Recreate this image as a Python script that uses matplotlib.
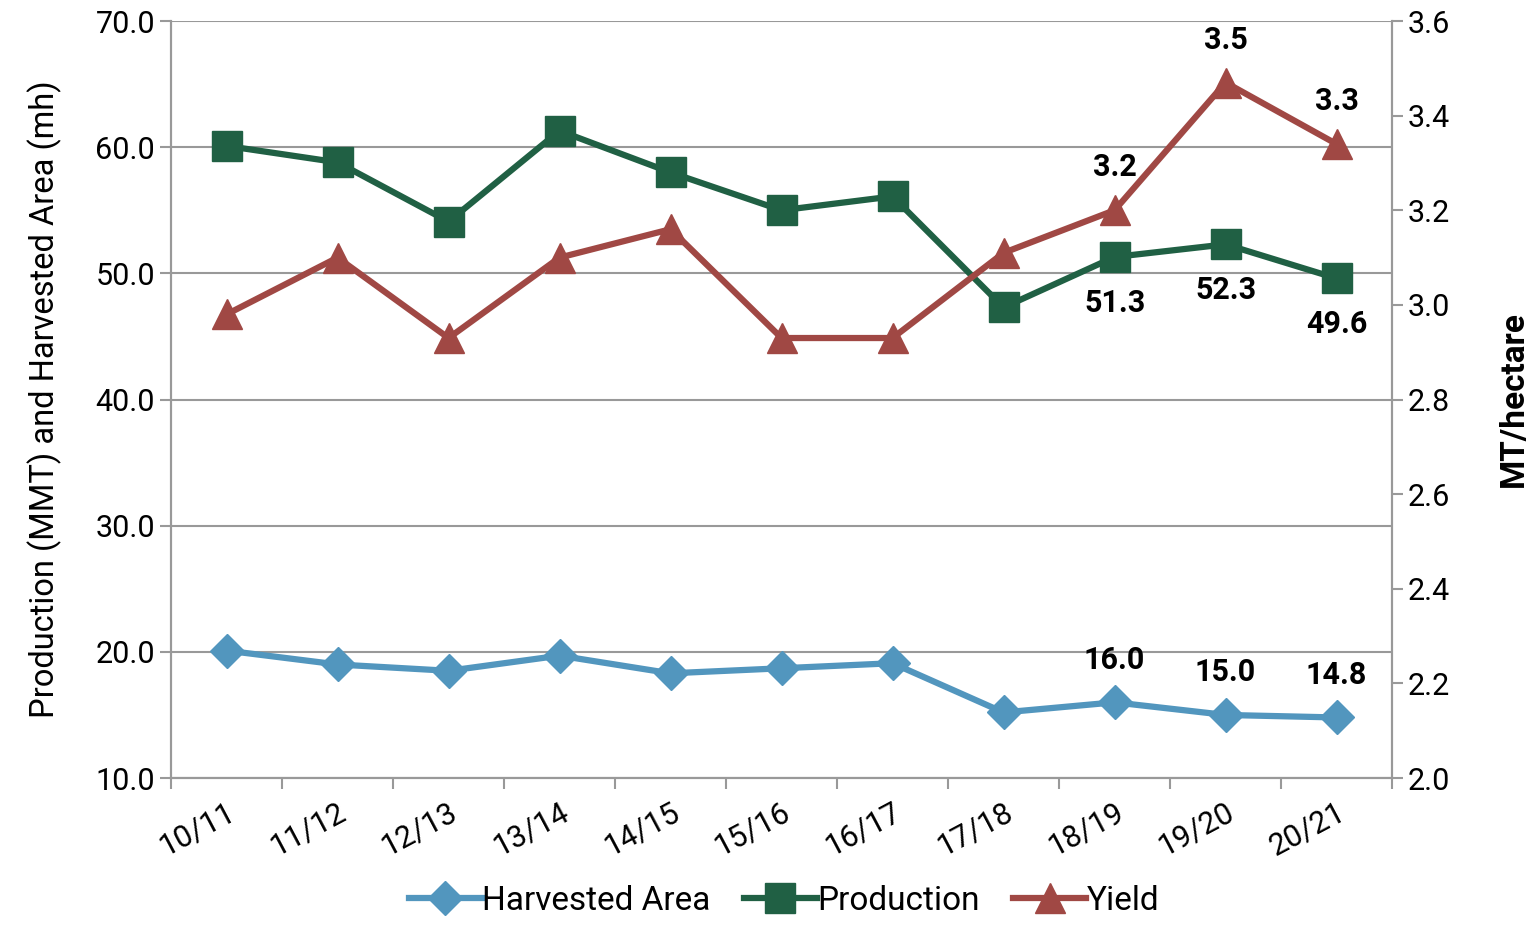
import matplotlib
matplotlib.use("Agg")
import matplotlib.pyplot as plt
import numpy as np

plt.rcParams['font.family'] = ['Roboto', 'DejaVu Sans']

years = ['10/11', '11/12', '12/13', '13/14', '14/15', '15/16', '16/17',
         '17/18', '18/19', '19/20', '20/21']
harvested_area = [20.1, 19.0, 18.5, 19.7, 18.3, 18.7, 19.1, 15.2, 16.0, 15.0, 14.8]
production = [60.1, 58.8, 54.1, 61.3, 58.0, 55.0, 56.1, 47.3, 51.3, 52.3, 49.6]
yield_mt = [2.98, 3.10, 2.93, 3.10, 3.16, 2.93, 2.93, 3.11, 3.20, 3.47, 3.34]

c_area = '#5296be'
c_prod = '#206044'
c_yield = '#a04844'
grid_c = '#999999'

fig = plt.figure(figsize=(15.37, 9.30), dpi=100)
ax = fig.add_axes([0.1113, 0.1634, 0.9057 - 0.1113, 0.9774 - 0.1634])
ax2 = ax.twinx()

x = np.arange(len(years))
ax.plot(x, harvested_area, color=c_area, lw=4.5, marker='D', ms=17,
        label='Harvested Area', zorder=3)
ax.plot(x, production, color=c_prod, lw=4.5, marker='s', ms=22,
        label='Production', zorder=3)
ax2.plot(x, yield_mt, color=c_yield, lw=4.5, marker='^', ms=21,
         label='Yield', zorder=3)

ax.set_xlim(-0.5, len(years) - 0.5)
ax.set_ylim(10, 70)
ax.set_yticks(np.arange(10, 71, 10))
ax.set_yticklabels([f'{v:.1f}' for v in np.arange(10, 71, 10)])
ax2.set_ylim(2.0, 3.6)
ax2.set_yticks(np.arange(2.0, 3.61, 0.2))
ax2.set_yticklabels([f'{v:.1f}' for v in np.arange(2.0, 3.61, 0.2)])

ax.yaxis.grid(True, color=grid_c, lw=1.5)
ax.set_axisbelow(True)

ax.set_xticks(np.arange(-0.5, len(years), 1.0))
ax.set_xticklabels([])
ax.set_xticks(x, minor=True)
ax.set_xticklabels(years, minor=True, rotation=28, ha='right',
                   rotation_mode='anchor', fontsize=22)
ax.tick_params(axis='x', which='minor', length=0, pad=14)
ax.tick_params(axis='x', which='major', length=8, color=grid_c, width=1.5)
ax.tick_params(axis='y', labelsize=22, length=8, color=grid_c, width=1.5)
ax2.tick_params(axis='y', labelsize=22, length=8, color=grid_c, width=1.5)

for a in (ax, ax2):
    a.spines['top'].set_visible(False)
    for s in ('left', 'right', 'bottom'):
        a.spines[s].set_color(grid_c)
        a.spines[s].set_linewidth(1.5)

ax.set_ylabel('Production (MMT) and Harvested Area (mh)', fontsize=23.5, labelpad=24)
ax2.set_ylabel('MT/hectare', fontsize=24, fontweight='bold', labelpad=34)

for i in range(8, 11):
    ax.annotate(f'{harvested_area[i]:.1f}', (x[i], harvested_area[i]),
                xytext=(0, 20), textcoords='offset points', ha='center',
                va='bottom', fontsize=22, fontweight='bold')
    ax.annotate(f'{production[i]:.1f}', (x[i], production[i]),
                xytext=(0, -22), textcoords='offset points', ha='center',
                va='top', fontsize=22, fontweight='bold')
for i in (8, 9, 10):
    ax2.annotate(f'{yield_mt[i]:.1f}', (x[i], yield_mt[i]),
                 xytext=(0, 20), textcoords='offset points', ha='center',
                 va='bottom', fontsize=22, fontweight='bold')

h1, l1 = ax.get_legend_handles_labels()
h2, l2 = ax2.get_legend_handles_labels()
fig.legend(h1 + h2, l1 + l2, loc='lower center', bbox_to_anchor=(0.51, -0.018),
           ncol=3, frameon=False, fontsize=24, handlelength=2.2,
           handletextpad=0.0, columnspacing=1.0)

fig.savefig('out.png', dpi=100)
